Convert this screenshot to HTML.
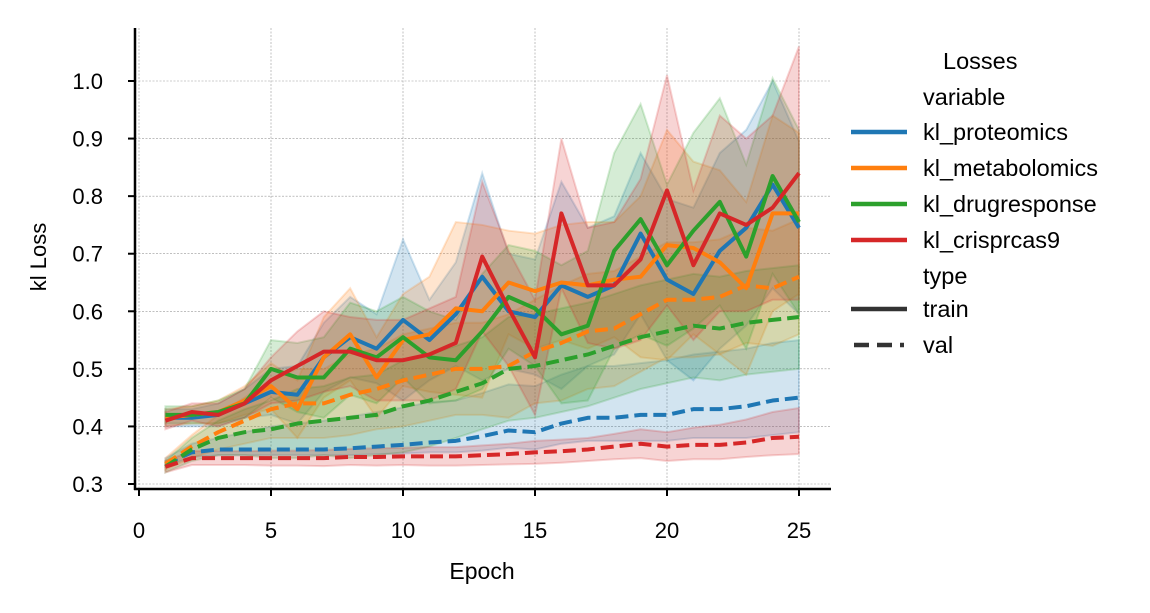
<!DOCTYPE html>
<html><head><meta charset="utf-8"><style>
html,body{margin:0;padding:0;background:#fff;}
svg{display:block;font-family:"Liberation Sans",Arial,sans-serif;}
</style></head><body>
<svg id="chart" width="1150" height="613" viewBox="0 0 1150 613" xmlns="http://www.w3.org/2000/svg">
<g id="grid"></g>
<g id="bands"></g>
<g id="lines"></g>
<g id="axes"></g>
<g id="legend"></g>
</svg>
<script>
const epochs=[1,2,3,4,5,6,7,8,9,10,11,12,13,14,15,16,17,18,19,20,21,22,23,24,25];
const xTicks=[0,5,10,15,20,25];
const yTicks=[0.3,0.4,0.5,0.6,0.7,0.8,0.9,1.0];
const seriesNames=["kl_proteomics","kl_metabolomics","kl_drugresponse","kl_crisprcas9"];
const trainProteomics=[.415,.415,.42,.44,.46,.455,.52,.555,.535,.585,.55,.595,.66,.60,.59,.645,.625,.645,.735,.655,.63,.705,.745,.82,.745];
const trainMetabolomics=[.415,.42,.425,.445,.47,.43,.52,.56,.485,.55,.56,.605,.60,.65,.635,.65,.645,.655,.66,.715,.71,.685,.64,.77,.77];
const trainDrug=[.42,.42,.425,.44,.50,.485,.485,.535,.52,.555,.52,.515,.565,.625,.605,.56,.575,.705,.76,.68,.74,.79,.695,.835,.755];
const trainCrispr=[.41,.425,.42,.44,.48,.505,.53,.53,.515,.515,.525,.545,.695,.605,.52,.77,.645,.645,.69,.81,.68,.77,.75,.78,.84];
const valProteomics=[.335,.355,.36,.36,.36,.36,.36,.362,.365,.368,.372,.375,.383,.393,.39,.405,.415,.415,.42,.42,.43,.43,.435,.445,.45];
const valMetabolomics=[.335,.365,.39,.41,.43,.44,.44,.455,.465,.48,.49,.50,.50,.505,.53,.545,.565,.57,.595,.62,.62,.625,.645,.64,.66];
const valDrug=[.33,.36,.38,.39,.395,.405,.41,.415,.42,.435,.445,.46,.475,.50,.505,.515,.525,.54,.555,.565,.575,.57,.58,.585,.59];
const valCrispr=[.33,.345,.345,.345,.345,.345,.345,.347,.347,.348,.348,.348,.35,.352,.355,.357,.36,.365,.37,.365,.368,.368,.372,.38,.382];
const upTrainProteomics=[.015,.015,.02,.025,.04,.05,.06,.07,.06,.14,.07,.09,.18,.1,.1,.18,.12,.12,.14,.14,.15,.17,.17,.18,.15];
const upTrainMetabolomics=[.015,.015,.02,.025,.04,.05,.07,.08,.07,.08,.1,.15,.15,.09,.1,.1,.11,.1,.14,.2,.15,.16,.15,.17,.14];
const upTrainDrug=[.015,.015,.02,.025,.05,.06,.07,.08,.08,.07,.08,.07,.1,.09,.1,.12,.13,.17,.2,.14,.17,.18,.16,.17,.16];
const upTrainCrispr=[.015,.015,.02,.025,.04,.06,.07,.06,.07,.07,.08,.08,.13,.1,.1,.13,.1,.11,.14,.2,.13,.17,.15,.16,.22];
const upValProteomics=[.01,.015,.02,.03,.04,.045,.05,.055,.06,.065,.07,.07,.075,.08,.08,.085,.09,.09,.09,.095,.095,.1,.1,.1,.1];
const upValMetabolomics=[.01,.02,.03,.04,.05,.06,.06,.07,.07,.08,.08,.08,.08,.09,.09,.1,.1,.1,.1,.1,.1,.1,.1,.1,.1];
const upValDrug=[.01,.02,.03,.04,.05,.06,.06,.07,.07,.08,.08,.08,.08,.09,.09,.09,.09,.09,.09,.09,.09,.09,.09,.09,.09];
const upValCrispr=[.01,.012,.012,.012,.013,.013,.014,.014,.015,.015,.016,.016,.017,.018,.02,.02,.02,.022,.025,.025,.03,.035,.04,.045,.05];
const lowValProteomics=[.005,.008,.01,.01,.01,.01,.01,.012,.013,.015,.017,.02,.025,.03,.03,.035,.04,.04,.045,.045,.05,.05,.055,.06,.06];
const lowValMetabolomics=[.01,.02,.03,.04,.05,.06,.06,.07,.07,.08,.08,.08,.08,.09,.09,.1,.1,.1,.1,.1,.1,.1,.1,.1,.1];
const lowValDrug=[.01,.02,.03,.04,.05,.06,.06,.07,.07,.08,.08,.08,.08,.09,.09,.09,.09,.09,.09,.09,.09,.09,.09,.09,.09];
const lowValCrispr=[.01,.012,.012,.012,.013,.013,.014,.014,.015,.015,.016,.016,.017,.018,.02,.02,.02,.022,.025,.025,.025,.025,.025,.03,.03];

const colors=["#1f77b4","#ff7f0e","#2ca02c","#d62728"];
const NS="http://www.w3.org/2000/svg";
const X=v=>139+(v-0)*(799-139)/25;
const Y=v=>484-(v-0.3)*(484-81)/0.7;
function mk(tag,attrs,parent){const e=document.createElementNS(NS,tag);for(const k in attrs)e.setAttribute(k,attrs[k]);parent.appendChild(e);return e;}
const grid=document.getElementById('grid'),bands=document.getElementById('bands'),lines=document.getElementById('lines'),axes=document.getElementById('axes'),legend=document.getElementById('legend');

xTicks.forEach(t=>{
  const g=mk('line',{x1:X(t),x2:X(t),y1:28,y2:489,stroke:'#999','stroke-width':0.6,'stroke-dasharray':'2,1.5'},grid);
  
  
  const tk=mk('line',{x1:X(t),x2:X(t),y1:489,y2:496,stroke:'#000','stroke-width':2},axes);
  
  
  const tx=mk('text',{x:X(t),y:538,'text-anchor':'middle','font-size':22,fill:'#000'},axes);
  tx.textContent=t;
  
  
});
yTicks.forEach(t=>{
  const g=mk('line',{x1:135,x2:831,y1:Y(t),y2:Y(t),stroke:'#999','stroke-width':0.6,'stroke-dasharray':'2,1.5'},grid);
  
  
  const tk=mk('line',{x1:128,x2:135,y1:Y(t),y2:Y(t),stroke:'#000','stroke-width':2},axes);
  
  
  const tx=mk('text',{x:103,y:Y(t)+8,'text-anchor':'end','font-size':22,fill:'#000'},axes);
  tx.textContent=t.toFixed(1);
  
  
});
const ls=mk('line',{x1:135,x2:135,y1:28,y2:490,stroke:'#000','stroke-width':2.5},axes);


const bs=mk('line',{x1:134,x2:831,y1:489,y2:489,stroke:'#000','stroke-width':2.5},axes);


const xt=mk('text',{x:482,y:579,'text-anchor':'middle','font-size':23,fill:'#000'},axes);
xt.textContent='Epoch';


const yt=mk('text',{x:0,y:0,'text-anchor':'middle','font-size':22,fill:'#000',transform:'translate(46,257) rotate(-90)'},axes);
yt.textContent='kl Loss';



const trains=[trainProteomics,trainMetabolomics,trainDrug,trainCrispr];
const vals=[valProteomics,valMetabolomics,valDrug,valCrispr];
const upTrain=[upTrainProteomics,upTrainMetabolomics,upTrainDrug,upTrainCrispr];
const upVal=[upValProteomics,upValMetabolomics,upValDrug,upValCrispr];
const lowVal=[lowValProteomics,lowValMetabolomics,lowValDrug,lowValCrispr];
function band(vals,up,low,c){
  let d='';
  epochs.forEach((e,i)=>{d+=(i?'L':'M')+X(e)+','+Y(vals[i]+up[i]);});
  for(let i=epochs.length-1;i>=0;i--)d+='L'+X(epochs[i])+','+Y(vals[i]-low[i]);
  d+='Z';
  return mk('path',{d:d,fill:c,'fill-opacity':0.2,stroke:c,'stroke-opacity':0.2,'stroke-width':2},bands);
}
function line(vals,c,dash){
  const pts=epochs.map((e,i)=>X(e)+','+Y(vals[i])).join(' ');
  const a={points:pts,fill:'none',stroke:c,'stroke-width':4,'stroke-linejoin':'round'};
  if(dash)a['stroke-dasharray']='13,6';
  return mk('polyline',a,lines);
}
for(let s=0;s<4;s++){
  const b1=band(trains[s],upTrain[s],upTrain[s],colors[s]);
  
  
  const b2=band(vals[s],upVal[s],lowVal[s],colors[s]);
  
  
}
for(let s=0;s<4;s++){
  const l=line(vals[s],colors[s],true);
  
  
}
for(let s=0;s<4;s++){
  const l=line(trains[s],colors[s],false);
  
  
}

function ltext(t,x,y,name){const e=mk('text',{x:x,y:y,'font-size':23.5,fill:'#000'},legend);e.textContent=t;return e;}
ltext('Losses',943,69,'legend-title');
ltext('variable',923,105,'legend-variable-header');
seriesNames.forEach((n,i)=>{
  const y=132+i*36;
  const l=mk('line',{x1:851,x2:907,y1:y,y2:y,stroke:colors[i],'stroke-width':4.5},legend);
  
  
  ltext(n,923,y+8,'legend-entry-'+n);
});
ltext('type',923,284,'legend-type-header');
const lt=mk('line',{x1:851,x2:907,y1:309,y2:309,stroke:'#333','stroke-width':4.5},legend);


ltext('train',923,317,'legend-entry-train');
const lv=mk('line',{x1:854,x2:904,y1:345,y2:345,stroke:'#333','stroke-width':4.5,'stroke-dasharray':'15,8'},legend);


ltext('val',923,353,'legend-entry-val');
</script>
</body></html>
